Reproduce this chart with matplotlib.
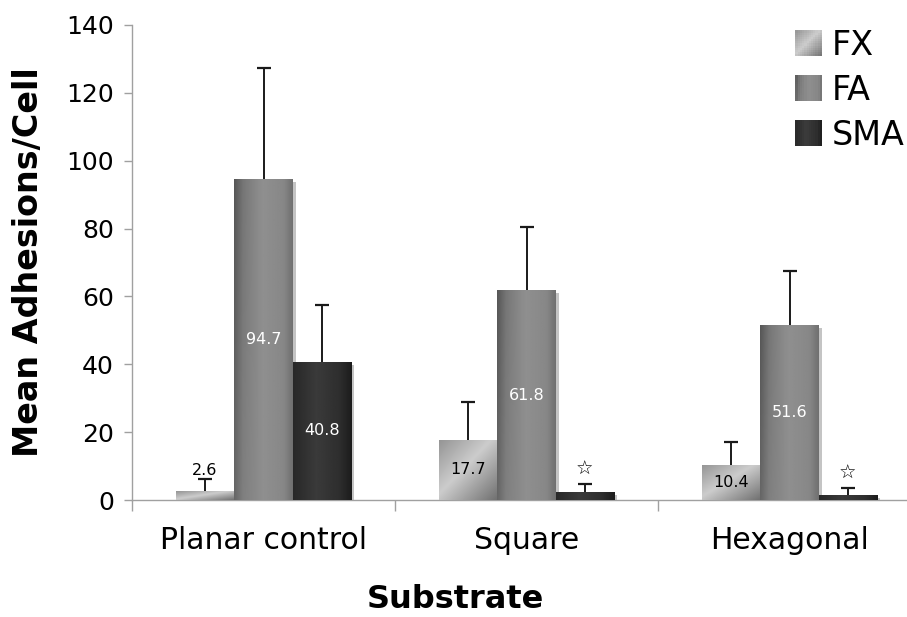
import numpy as np
import matplotlib
matplotlib.use("Agg")
import matplotlib.pyplot as plt
from matplotlib.patches import Rectangle
from matplotlib.legend_handler import HandlerBase
import matplotlib.transforms as mtransforms

# ---- data ----
categories = ["Planar control", "Square", "Hexagonal"]
series = ["FX", "FA", "SMA"]
fx_values = [2.6, 17.7, 10.4]
fa_values = [94.7, 61.8, 51.6]
sma_values = [40.8, 2.4, 1.5]
fx_err = [3.6, 11.2, 6.7]
fa_err = [32.6, 18.7, 15.9]
sma_err = [16.7, 2.3, 2.0]
fx_labels = ["2.6", "17.7", "10.4"]
fa_labels = ["94.7", "61.8", "51.6"]
sma_labels = ["40.8", "\u2606", "\u2606"]
y_ticks = [0, 20, 40, 60, 80, 100, 120, 140]

values = [fx_values, fa_values, sma_values]
errors = [fx_err, fa_err, sma_err]
labels = [fx_labels, fa_labels, sma_labels]


# ---- gradient styles ----
def grad_fx(u, v):
    s = (u + (1 - v)) / 2
    return np.interp(s, [0, 0.45, 1], [0.58, 0.80, 0.44])


def grad_fa(u, v):
    base = np.interp(u, [0, 0.15, 0.5, 0.85, 1], [0.40, 0.50, 0.56, 0.53, 0.44])
    return base - 0.06 * (1 - np.clip(u * 2.5, 0, 1)) * v


def grad_sma(u, v):
    return np.interp(u, [0, 0.4, 0.8, 1], [0.16, 0.23, 0.18, 0.11])


grads = [grad_fx, grad_fa, grad_sma]
label_colors = ["black", "white", "white"]

fig = plt.figure(figsize=(9.07, 6.17), dpi=100)
ax = fig.add_axes([132 / 907, 1 - 500 / 617, 789 / 907, 475 / 617])

n_cat = len(categories)
bw = 1 / 4.5
x_centers = np.arange(n_cat) + 0.5

uu, vv = np.meshgrid(np.linspace(0, 1, 64), np.linspace(0, 1, 64))

shadow_tr = mtransforms.offset_copy(ax.transData, fig=fig, x=3, y=-3, units="dots")

for j in range(3):
    xs = x_centers + (j - 1) * bw
    bars = ax.bar(xs, values[j], width=bw, color="0.5", edgecolor="none", zorder=2)
    # shadow
    ax.bar(xs, values[j], width=bw, color="#c4c4c4", edgecolor="none", zorder=1,
           transform=shadow_tr)
    img = grads[j](uu, vv)
    for p in bars:
        x0, y0 = p.get_x(), p.get_y()
        w, h = p.get_width(), p.get_height()
        im = ax.imshow(img, extent=[x0, x0 + w, y0, y0 + h], origin="lower",
                       cmap="gray", vmin=0, vmax=1, aspect="auto",
                       interpolation="bilinear", zorder=3)
        im.set_clip_path(p)
    eb = ax.errorbar(xs, values[j], yerr=[np.zeros(n_cat), errors[j]], fmt="none",
                     ecolor="#1a1a1a", elinewidth=1.4, capsize=5, capthick=1.6, zorder=4)
    eb[1][0].set_visible(False)  # hide lower caps
    for i in range(n_cat):
        val = values[j][i]
        lab = labels[j][i]
        if val < 8:
            top = val + errors[j][i]
            if lab == "\u2606":
                ax.annotate(lab, (xs[i], top), xytext=(0, 4), textcoords="offset points",
                            ha="center", va="bottom", fontsize=14, color="black", zorder=5)
            else:
                ax.annotate(lab, (xs[i], top), xytext=(0, 1), textcoords="offset points",
                            ha="center", va="bottom", fontsize=11.5, color="black", zorder=5)
        else:
            ax.text(xs[i], val / 2, lab, ha="center", va="center", fontsize=11.5,
                    color=label_colors[j], zorder=5)

ax.set_xlim(0, n_cat)
ax.set_ylim(0, 140)
ax.set_yticks(y_ticks)
ax.set_yticklabels([str(t) for t in y_ticks])

ax.set_xticks(np.arange(n_cat + 1))
ax.set_xticklabels([])
ax.set_xticks(x_centers, minor=True)
ax.set_xticklabels(categories, minor=True)
ax.tick_params(axis="x", which="major", length=8, color="#a0a0a0", width=1)
ax.tick_params(axis="x", which="minor", length=0, pad=19, labelsize=21.5)
ax.tick_params(axis="y", length=6, color="#a0a0a0", width=1, labelsize=18, pad=7)

for s in ["top", "right"]:
    ax.spines[s].set_visible(False)
for s in ["left", "bottom"]:
    ax.spines[s].set_color("#a0a0a0")
    ax.spines[s].set_linewidth(1)

ax.set_ylabel("Mean Adhesions/Cell", fontsize=24, fontweight="bold", va="center")
ax.yaxis.set_label_coords(-0.131, 0.5)
ax.set_xlabel("Substrate", fontsize=23, fontweight="bold", va="center")
ax.xaxis.set_label_coords((455 - 132) / 789, (500 - 599) / 475)


class GradHandler(HandlerBase):
    def __init__(self, func, n=12):
        super().__init__()
        self.func = func
        self.n = n

    def create_artists(self, legend, orig_handle, xdescent, ydescent, width, height,
                       fontsize, trans):
        arts = []
        n = self.n
        for i in range(n):
            for k in range(n):
                u = (i + 0.5) / n
                v = (k + 0.5) / n
                c = float(self.func(np.array(u), np.array(v)))
                r = Rectangle((-xdescent + i * width / n, -ydescent + k * height / n),
                              width / n * 1.08, height / n * 1.08,
                              facecolor=(c, c, c), edgecolor="none", transform=trans)
                arts.append(r)
        return arts


handles = [Rectangle((0, 0), 1, 1) for _ in series]
hmap = {h: GradHandler(g) for h, g in zip(handles, grads)}
leg = ax.legend(handles, series, handler_map=hmap, loc="upper right",
                bbox_to_anchor=(905 / 907, 1 - 29 / 617), bbox_transform=fig.transFigure,
                frameon=False, fontsize=24, handlelength=0.8, handleheight=0.8,
                handletextpad=0.3, labelspacing=0.36, borderpad=0, borderaxespad=0)

fig.savefig("out.png", dpi=100)
